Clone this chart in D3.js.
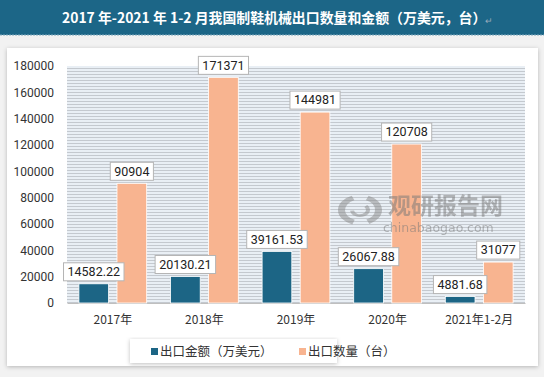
<!DOCTYPE html>
<html>
<head>
<meta charset="utf-8">
<script src="https://cdn.jsdelivr.net/npm/d3@7"></script>
<style>
  body { margin: 0; background: #f2f2f2; }
  svg { display: block; }
</style>
</head>
<body>
<div id="chart"></div>
<script>
// data
var categories = ["2017年", "2018年", "2019年", "2020年", "2021年1-2月"];
var amountValues = [14582.22, 20130.21, 39161.53, 26067.88, 4881.68];   // 出口金额（万美元）
var countValues = [90904, 171371, 144981, 120708, 31077];              // 出口数量（台）
var seriesNames = ["出口金额（万美元）", "出口数量（台）"];
var yTicks = [0, 20000, 40000, 60000, 80000, 100000, 120000, 140000, 160000, 180000];

var colors = ["#1c6585", "#f8b490"];
var W = 544, H = 377;
var font = "'Noto Sans CJK SC', 'Noto Sans', sans-serif";

var svg = d3.select("#chart").append("svg")
  .attr("width", W)
  .attr("height", H);

var defs = svg.append("defs");

// striped background of the plot
var pat = defs.append("pattern")
  .attr("id", "stripes")
  .attr("patternUnits", "userSpaceOnUse")
  .attr("width", 6).attr("height", 3);
pat.append("rect").attr("width", 6).attr("height", 3).attr("fill", "#e9eff5");
pat.append("rect").attr("y", 2).attr("width", 6).attr("height", 1).attr("fill", "#c4c9cf");

var shadow = defs.append("filter").attr("id", "shadow")
  .attr("x", "-5%").attr("y", "-5%").attr("width", "110%").attr("height", "115%");
shadow.append("feDropShadow")
  .attr("dx", 0).attr("dy", 1).attr("stdDeviation", 2)
  .attr("flood-color", "#000").attr("flood-opacity", 0.25);

// title bar
svg.append("rect")
  .attr("width", W).attr("height", 35)
  .attr("fill", "#1c6687");
svg.append("line")
  .attr("x1", 0).attr("x2", W).attr("y1", 35).attr("y2", 35)
  .attr("stroke", "#7fa9bd").attr("stroke-dasharray", "2,1");
svg.append("text")
  .attr("x", 62).attr("y", 23)
  .attr("fill", "#fff")
  .attr("font-family", font)
  .attr("font-weight", "bold")
  .attr("font-size", 13.9)
  .text("2017 年-2021 年 1-2 月我国制鞋机械出口数量和金额（万美元，台）");
svg.append("text")
  .attr("x", 485).attr("y", 24)
  .attr("fill", "#9ab")
  .attr("font-family", font)
  .attr("font-size", 9)
  .text("↵");

// chart box
svg.append("rect")
  .attr("x", 7).attr("y", 48)
  .attr("width", 531).attr("height", 318)
  .attr("fill", "#fff")
  .attr("filter", "url(#shadow)");

var margin = {top: 66, left: 67, right: 19, bottom: 74};
var plotW = W - margin.left - margin.right,
    plotH = H - margin.top - margin.bottom;

var g = svg.append("g")
  .attr("transform", "translate(" + margin.left + "," + margin.top + ")");

var x = d3.scaleBand()
  .domain(categories)
  .range([0, plotW])
  .paddingInner(0.26)
  .paddingOuter(0.13);

var xs = d3.scaleBand()
  .domain(seriesNames)
  .range([0, x.bandwidth()])
  .paddingInner(0.22);

var y = d3.scaleLinear()
  .domain([0, 180000])
  .range([plotH, 0]);

g.append("rect")
  .attr("width", plotW)
  .attr("height", plotH)
  .attr("fill", "url(#stripes)");

// y axis
var yAxis = g.append("g")
  .call(d3.axisLeft(y).tickValues(yTicks).tickSize(0).tickPadding(13).tickFormat(d3.format("d")));
yAxis.select(".domain").remove();
yAxis.selectAll("text")
  .attr("font-family", "Roboto, sans-serif")
  .attr("font-size", 12)
  .attr("fill", "#333");

// x axis
var xAxis = g.append("g")
  .attr("transform", "translate(0," + plotH + ")")
  .call(d3.axisBottom(x).tickSize(0).tickPadding(12));
xAxis.select(".domain").attr("stroke", "#bfbfbf");
xAxis.selectAll("text")
  .attr("font-family", font)
  .attr("font-size", 12)
  .attr("fill", "#333");

// watermark
var wm = svg.append("g").attr("opacity", 0.5);
wm.append("text")
  .attr("x", 388).attr("y", 214)
  .attr("font-family", font)
  .attr("font-weight", "bold")
  .attr("font-size", 23)
  .attr("fill", "#777")
  .text("观研报告网");
wm.append("text")
  .attr("x", 383).attr("y", 232)
  .attr("font-family", "'DejaVu Sans', sans-serif")
  .attr("font-size", 12.5)
  .attr("fill", "#777")
  .text("chinabaogao.com");
var arc = d3.arc();
[[15, 22, 0.4, 2.7], [15, 22, 3.5, 5.9], [6, 10, 0.8, 4.6]].forEach(function(a) {
  wm.append("path")
    .attr("transform", "translate(360,210) scale(1,0.7)")
    .attr("d", arc({innerRadius: a[0], outerRadius: a[1], startAngle: a[2], endAngle: a[3]}))
    .attr("fill", "#888");
});

// bars
var series = [amountValues, countValues];
var labelFmt = [d3.format(".2f"), d3.format("d")];

series.forEach(function(vals, si) {
  var data = categories.map(function(c, i) { return {cat: c, v: vals[i]}; });
  g.append("g").selectAll("rect")
    .data(data)
    .enter().append("rect")
    .attr("x", function(d) { return x(d.cat) + xs(seriesNames[si]); })
    .attr("y", function(d) { return y(d.v); })
    .attr("width", xs.bandwidth())
    .attr("height", function(d) { return plotH - y(d.v); })
    .attr("fill", colors[si])
    .attr("stroke", "#fff")
    .attr("stroke-width", 0.8);
});

// value label boxes, drawn over all bars
series.forEach(function(vals, si) {
  var data = categories.map(function(c, i) { return {cat: c, v: vals[i]}; });
  var lab = g.append("g").selectAll("g")
    .data(data)
    .enter().append("g")
    .attr("transform", function(d) {
      return "translate(" + (x(d.cat) + xs(seriesNames[si]) + xs.bandwidth() / 2) + "," + (y(d.v) - 12) + ")";
    });

  lab.append("text")
    .attr("text-anchor", "middle")
    .attr("dy", "0.35em")
    .attr("font-family", "Roboto, sans-serif")
    .attr("font-size", 12.5)
    .attr("fill", "#222")
    .text(function(d) { return labelFmt[si](d.v); });

  lab.each(function() {
    var t = d3.select(this).select("text").node().getBBox();
    d3.select(this).insert("rect", "text")
      .attr("x", t.x - 4).attr("y", -9)
      .attr("width", t.width + 8).attr("height", 18)
      .attr("fill", "#fff")
      .attr("stroke", "#b5b5b5");
  });
});

// legend
var lg = svg.append("g");
lg.append("rect")
  .attr("x", 130).attr("y", 339)
  .attr("width", 207).attr("height", 24)
  .attr("fill", "#fff")
  .attr("filter", "url(#shadow)");
var legendX = [151, 299];
seriesNames.forEach(function(name, i) {
  lg.append("rect")
    .attr("x", legendX[i]).attr("y", 348)
    .attr("width", 7).attr("height", 7)
    .attr("fill", colors[i]);
  lg.append("text")
    .attr("x", legendX[i] + 9).attr("y", 356)
    .attr("font-family", font)
    .attr("font-size", 12.5)
    .attr("fill", "#333")
    .text(name);
});
</script>
</body>
</html>
